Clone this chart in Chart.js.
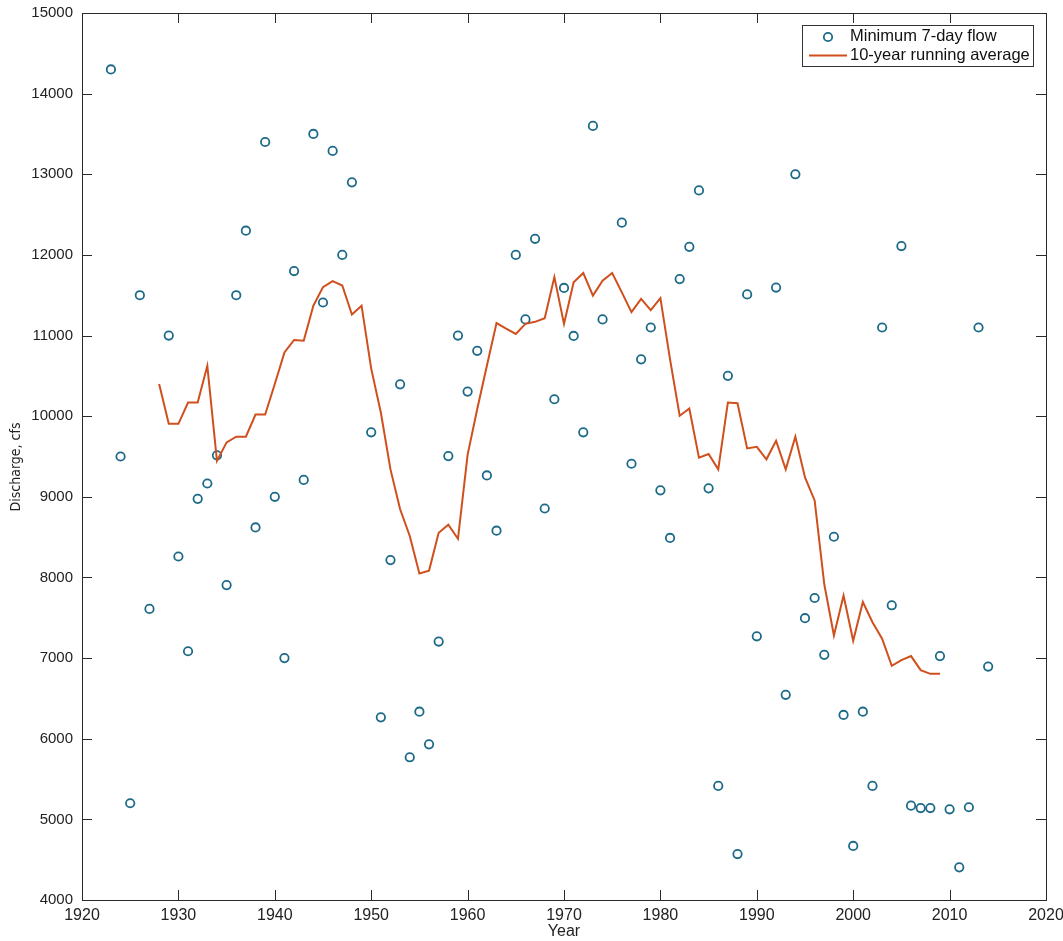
<!DOCTYPE html>
<html>
<head>
<meta charset="utf-8">
<script src="https://cdn.jsdelivr.net/npm/chart.js@4.4.1/dist/chart.umd.min.js"></script>
<style>
  html, body { margin: 0; padding: 0; background: #fff; }
  #wrap { width: 1063px; height: 941px; }
</style>
</head>
<body>
<div id="wrap"><canvas id="flowChart" width="1063" height="941"></canvas></div>
<script>
// annual minimum 7-day flow (cfs)
const flowYears = [1923,1924,1925,1926,1927,1929,1930,1931,1932,1933,1934,1935,1936,1937,1938,1939,1940,1941,1942,1943,1944,1945,1946,1947,1948,
  1950,1951,1952,1953,1954,1955,1956,1957,1958,1959,1960,1961,1962,1963,1965,1966,1967,1968,1969,1970,1971,1972,1973,1974,
  1976,1977,1978,1979,1980,1981,1982,1983,1984,1985,1986,1987,1988,1989,1990,1992,1993,1994,1995,1996,1997,1998,1999,
  2000,2001,2002,2003,2004,2005,2006,2007,2008,2009,2010,2011,2012,2013,2014];
const flowValues = [14300,9500,5200,11500,7610,11000,8260,7085,8975,9165,9515,7905,11500,12300,8620,13400,9000,7000,11800,9210,13500,11410,13290,12000,12900,
  9800,6265,8215,10395,5770,6335,5930,7205,9505,11000,10305,10810,9265,8580,12000,11200,12200,8855,10210,11590,10995,9800,13600,11200,
  12400,9410,10705,11100,9080,8490,11700,12100,12800,9105,5415,10500,4570,11510,7270,11595,6545,13000,7495,7745,7040,8505,6295,
  4670,6335,5415,11100,7655,12110,5170,5140,5140,7025,5125,4405,5150,11100,6895];

// 10-year running average
const avgYears = [1928,1929,1930,1931,1932,1933,1934,1935,1936,1937,1938,1939,1940,1941,1942,1943,1944,1945,1946,1947,1948,1949,
  1950,1951,1952,1953,1954,1955,1956,1957,1958,1959,1960,1961,1962,1963,1964,1965,1966,1967,1968,1969,1970,1971,1972,1973,1974,
  1975,1976,1977,1978,1979,1980,1981,1982,1983,1984,1985,1986,1987,1988,1989,1990,1991,1992,1993,1994,1995,1996,1997,1998,1999,
  2000,2001,2002,2003,2004,2005,2006,2007,2008,2009];
const avgValues = [10400,9905,9905,10170,10170,10625,9445,9675,9745,9745,10020,10020,10400,10790,10945,10935,11370,11600,11675,11620,11260,11370,
  10590,10045,9340,8845,8515,8050,8085,8555,8655,8480,9520,10090,10625,11155,11085,11020,11145,11170,11215,11725,11145,11660,11775,11495,11680,
  11775,11535,11290,11455,11315,11465,10705,10005,10095,9485,9530,9340,10170,10160,9600,9620,9465,9695,9340,9745,9240,8955,7915,7280,7775,
  7215,7695,7445,7240,6905,6975,7025,6850,6805,6805];

const xTicks = [1920,1930,1940,1950,1960,1970,1980,1990,2000,2010,2020];
const yTicks = [4000,5000,6000,7000,8000,9000,10000,11000,12000,13000,14000,15000];

const seriesNames = ['Minimum 7-day flow', '10-year running average'];
const FLOW_COLOR = '#1d6a88';
const AVG_COLOR = '#cf4f1d';
const AXIS_COLOR = '#2b2b2b';
const FONT = '"Liberation Sans", Arial, Helvetica, sans-serif';

// matlab style box: border all round, ticks pointing inward, legend in the corner
const boxAxes = {
  id: 'boxAxes',
  afterDraw(chart) {
    const { ctx, chartArea: a, scales: { x, y } } = chart;
    const len = 10;
    ctx.save();
    ctx.strokeStyle = AXIS_COLOR; ctx.lineWidth = 1;
    ctx.strokeRect(Math.round(a.left) + 0.5, Math.round(a.top) + 0.5, Math.round(a.right - a.left), Math.round(a.bottom - a.top));
    ctx.beginPath();
    xTicks.forEach(v => {
      const px = Math.round(x.getPixelForValue(v)) + 0.5;
      ctx.moveTo(px, a.bottom); ctx.lineTo(px, a.bottom - len);
      ctx.moveTo(px, a.top); ctx.lineTo(px, a.top + len);
    });
    yTicks.forEach(v => {
      const py = Math.round(y.getPixelForValue(v)) + 0.5;
      ctx.moveTo(a.left, py); ctx.lineTo(a.left + len, py);
      ctx.moveTo(a.right, py); ctx.lineTo(a.right - len, py);
    });
    ctx.stroke();

    // y axis title
    ctx.fillStyle = '#222';
    ctx.font = '14px "Liberation Sans Narrow", "DejaVu Sans Condensed", Arial, sans-serif';
    ctx.translate(16, 467); ctx.rotate(-Math.PI / 2);
    ctx.textAlign = 'center'; ctx.textBaseline = 'middle';
    ctx.fillText('Discharge, cfs', 0, 0);
    ctx.restore();

    // legend
    ctx.save();
    const lx = 802.5, ly = 25.5, lw = 231, lh = 41;
    ctx.fillStyle = '#fff'; ctx.fillRect(lx, ly, lw, lh);
    ctx.strokeStyle = '#333'; ctx.lineWidth = 1; ctx.strokeRect(lx, ly, lw, lh);
    ctx.strokeStyle = FLOW_COLOR; ctx.lineWidth = 1.8;
    ctx.beginPath(); ctx.arc(828, 37, 4.2, 0, Math.PI * 2); ctx.stroke();
    ctx.strokeStyle = AVG_COLOR; ctx.lineWidth = 2;
    ctx.beginPath(); ctx.moveTo(809, 55.5); ctx.lineTo(847, 55.5); ctx.stroke();
    ctx.fillStyle = '#111'; ctx.font = '16.5px ' + FONT;
    ctx.textAlign = 'left'; ctx.textBaseline = 'middle';
    ctx.fillText(seriesNames[0], 850, 36.5);
    ctx.fillText(seriesNames[1], 850, 55.5);
    ctx.restore();
  }
};

new Chart(document.getElementById('flowChart').getContext('2d'), {
  type: 'line',
  data: {
    datasets: [
      { label: seriesNames[1], data: avgYears.map((yr, i) => ({ x: yr, y: avgValues[i] })),
        borderColor: AVG_COLOR, borderWidth: 2, pointRadius: 0, tension: 0, fill: false, order: 1 },
      { label: seriesNames[0], data: flowYears.map((yr, i) => ({ x: yr, y: flowValues[i] })),
        showLine: false, pointStyle: 'circle', pointRadius: 4.2, pointBorderWidth: 1.8,
        pointBorderColor: FLOW_COLOR, pointBackgroundColor: 'rgba(0,0,0,0)', borderColor: FLOW_COLOR, order: 2 }
    ]
  },
  options: {
    responsive: false, animation: false,
    layout: { padding: { top: 13, right: 17, left: 0, bottom: 0 } },
    plugins: { legend: { display: false }, tooltip: { enabled: false } },
    scales: {
      x: {
        type: 'linear', min: 1920, max: 2020,
        afterFit: s => { s.height = 41; s.paddingLeft = 0; s.paddingRight = 0; },
        afterBuildTicks: s => { s.ticks = xTicks.map(v => ({ value: v })); },
        grid: { display: false, drawTicks: false },
        border: { display: false },
        ticks: { padding: 6, color: '#222', font: { family: FONT, size: 16 }, callback: v => String(v), maxRotation: 0, autoSkip: false },
        title: { display: true, text: 'Year', color: '#222', font: { family: FONT, size: 16 }, padding: { top: 0, bottom: 0 } }
      },
      y: {
        type: 'linear', min: 4000, max: 15000,
        afterFit: s => { s.width = 82; s.paddingTop = 0; s.paddingBottom = 0; },
        afterBuildTicks: s => { s.ticks = yTicks.map(v => ({ value: v })); },
        grid: { display: false, drawTicks: false },
        border: { display: false },
        ticks: { padding: 9, color: '#222', font: { family: FONT, size: 15 }, callback: v => String(v), autoSkip: false }
      }
    }
  },
  plugins: [boxAxes]
});
</script>
</body>
</html>
